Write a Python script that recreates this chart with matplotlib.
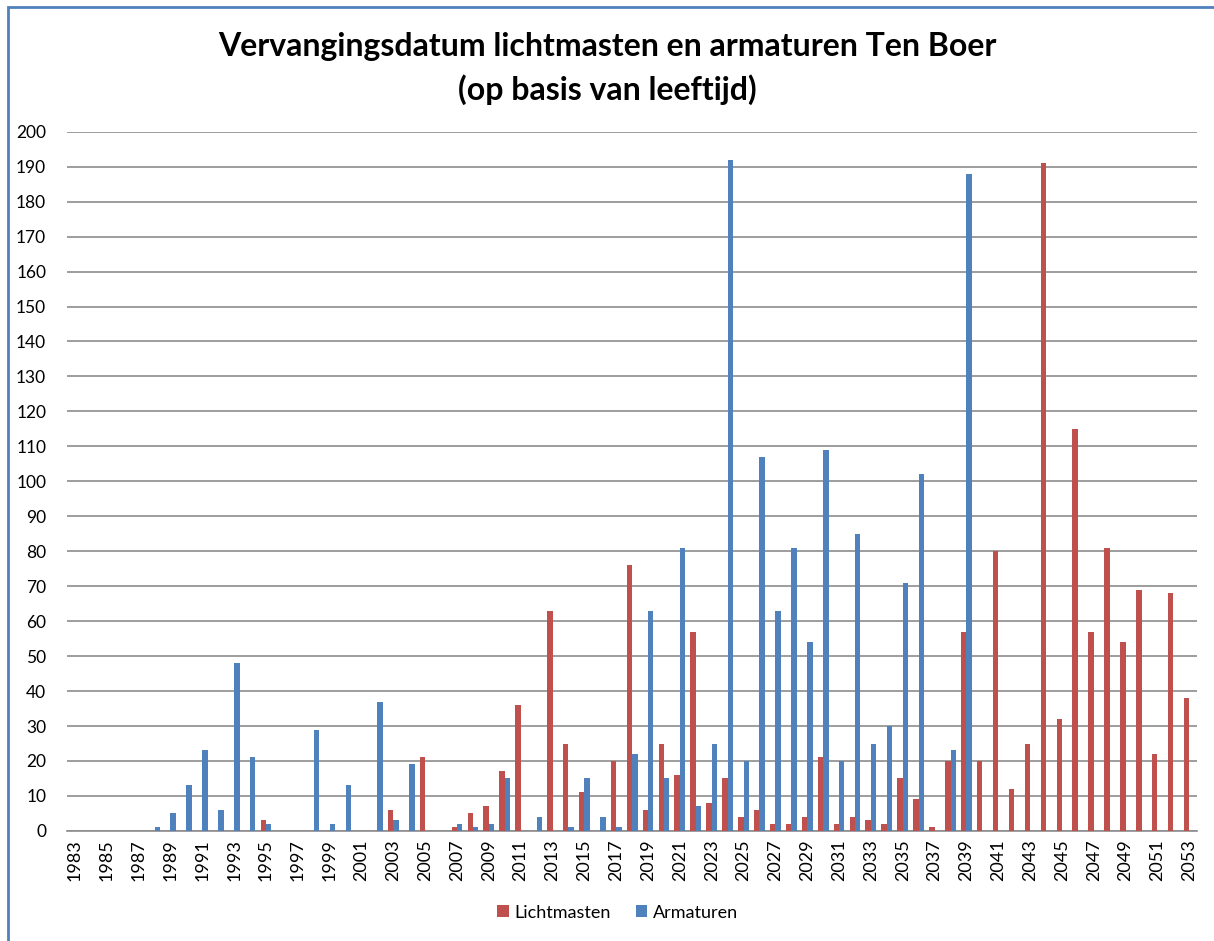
import numpy as np
import matplotlib as mpl
import matplotlib.pyplot as plt
from matplotlib.patches import Rectangle

mpl.rcParams['font.family'] = ['Lato', 'DejaVu Sans']

years = list(range(1983, 2054))

# values per year, 1983..2053
lichtmasten = [0, 0, 0, 0, 0, 0, 0, 0, 0, 0,      # 1983-1992
               0, 0, 3, 0, 0, 0, 0, 0, 0, 0,      # 1993-2002
               6, 0, 21, 0, 1, 5, 7, 17, 36, 0,   # 2003-2012
               63, 25, 11, 0, 20, 76, 6, 25, 16, 57,  # 2013-2022
               8, 15, 4, 6, 2, 2, 4, 21, 2, 4,    # 2023-2032
               3, 2, 15, 9, 1, 20, 57, 20, 80, 12,  # 2033-2042
               25, 191, 32, 115, 57, 81, 54, 69, 22, 68,  # 2043-2052
               38]                                # 2053
armaturen = [0, 0, 0, 0, 0, 1, 5, 13, 23, 6,      # 1983-1992
             48, 21, 2, 0, 0, 29, 2, 13, 0, 37,   # 1993-2002
             3, 19, 0, 0, 2, 1, 2, 15, 0, 4,      # 2003-2012
             0, 1, 15, 4, 1, 22, 63, 15, 81, 7,   # 2013-2022
             25, 192, 20, 107, 63, 81, 54, 109, 20, 85,  # 2023-2032
             25, 30, 71, 102, 0, 23, 188, 0, 0, 0,  # 2033-2042
             0, 0, 0, 0, 0, 0, 0, 0, 0, 0,        # 2043-2052
             0]                                   # 2053

red = '#C0504D'
blue = '#4F81BD'

fig = plt.figure(figsize=(12.14, 9.41), dpi=100)
ax = fig.add_axes([0.0552, 0.117, 0.931, 0.743])

x = np.arange(len(years))
w = 0.34
ax.bar(x - w/2, lichtmasten, w, color=red, label='Lichtmasten', zorder=3)
ax.bar(x + w/2, armaturen, w, color=blue, label='Armaturen', zorder=3)

ax.set_xlim(-0.5, len(years) - 0.5)
ax.set_ylim(0, 200)
ax.set_yticks(np.arange(0, 201, 10))
ax.yaxis.grid(True, color='#8c8c8c', lw=1.2, zorder=0)
ax.set_xticks(x[::2])
ax.set_xticklabels([str(y) for y in years[::2]], rotation=90, fontsize=13)
ax.tick_params(axis='y', labelsize=12.5, length=0, pad=15)
ax.tick_params(axis='x', length=0, pad=6)
for s in ['top', 'right', 'left']:
    ax.spines[s].set_visible(False)
ax.spines['bottom'].set_color('#8c8c8c')
ax.spines['bottom'].set_linewidth(1.2)

fig.text(0.5, 0.951, 'Vervangingsdatum lichtmasten en armaturen Ten Boer',
         ha='center', va='center', fontsize=23, fontweight='bold')
fig.text(0.5, 0.905, '(op basis van leeftijd)',
         ha='center', va='center', fontsize=23, fontweight='bold')

ax.legend(loc='center', bbox_to_anchor=(0.487, -0.117), ncol=2, frameon=False,
          fontsize=13, handlelength=0.65, handleheight=0.65, handletextpad=0.3,
          columnspacing=1.4)

# outer frame
fig.patches.append(Rectangle((0.0063, -0.01), 1.0, 1.0026, transform=fig.transFigure,
                             fill=False, edgecolor='#4F81BD', lw=2.0))

plt.savefig('out.png', dpi=100)
